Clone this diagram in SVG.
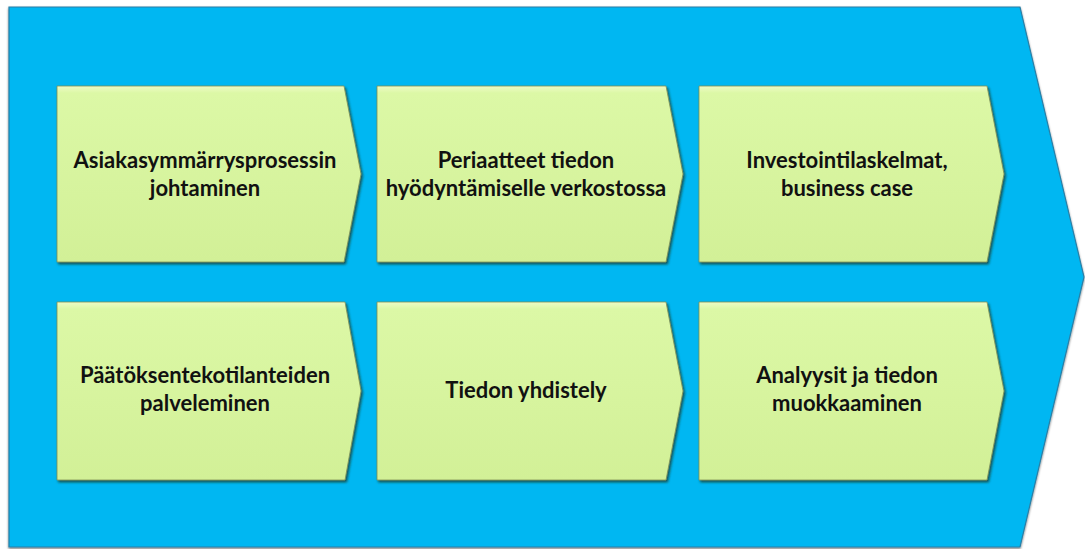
<svg xmlns="http://www.w3.org/2000/svg" width="1085" height="549" viewBox="0 0 1085 549">
  <style>
    .band { fill: #00B7F2; stroke: #2A7FA6; stroke-width: 1.2; }
    .step { fill: url(#stepFill); stroke: #7E8F55; stroke-width: 0.8; filter: url(#shade); }
    .label { font-family: Lato, "Open Sans", "Liberation Sans", sans-serif; font-weight: 700; font-size: 22px; fill: #111; text-anchor: middle; }
  </style>
  <defs>
    <linearGradient id="stepFill" x1="0" y1="0" x2="0" y2="1">
      <stop offset="0" stop-color="#EEFBC6"/>
      <stop offset="0.04" stop-color="#DCF8A6"/>
      <stop offset="1" stop-color="#D2F097"/>
    </linearGradient>
    <filter id="shade" x="-5%" y="-5%" width="115%" height="120%">
      <feDropShadow dx="1.5" dy="2" stdDeviation="1.3" flood-color="#1a2a10" flood-opacity="0.7"/>
    </filter>
    <filter id="bandShade" x="-2%" y="-2%" width="104%" height="106%">
      <feDropShadow dx="0" dy="1.5" stdDeviation="1.2" flood-color="#000" flood-opacity="0.5"/>
    </filter>
  </defs>

  <rect width="1085" height="549" fill="#ffffff"/>

  <!-- chevron band behind the steps -->
  <g id="band">
    <polygon class="band" filter="url(#bandShade)" points="9,7 1020,7 1084,277 1020,547 9,547"/>
  </g>

  <!-- top row -->
  <g id="step-asiakasymmarrys">
    <polygon class="step" points="57,86 344,86 361,174 344,262 57,262"/>
    <text class="label" x="205" y="168">Asiakasymmärrysprosessin</text>
    <text class="label" x="205" y="196">johtaminen</text>
  </g>
  <g id="step-periaatteet">
    <polygon class="step" points="377,86 666,86 683,174 666,262 377,262"/>
    <text class="label" x="526" y="168">Periaatteet tiedon</text>
    <text class="label" x="526" y="196">hyödyntämiselle verkostossa</text>
  </g>
  <g id="step-investointi">
    <polygon class="step" points="699,86 987,86 1004,174 987,262 699,262"/>
    <text class="label" x="847" y="168">Investointilaskelmat,</text>
    <text class="label" x="847" y="196">business case</text>
  </g>

  <!-- bottom row -->
  <g id="step-paatoksenteko">
    <polygon class="step" points="57,302 345,302 361,391 345,480 57,480"/>
    <text class="label" x="205" y="383">Päätöksentekotilanteiden</text>
    <text class="label" x="205" y="411">palveleminen</text>
  </g>
  <g id="step-yhdistely">
    <polygon class="step" points="377,302 666,302 683,391 666,480 377,480"/>
    <text class="label" x="526" y="398">Tiedon yhdistely</text>
  </g>
  <g id="step-analyysit">
    <polygon class="step" points="699,302 987,302 1004,391 987,480 699,480"/>
    <text class="label" x="847" y="383">Analyysit ja tiedon</text>
    <text class="label" x="847" y="411">muokkaaminen</text>
  </g>

  <g id="connectors"/>
</svg>
